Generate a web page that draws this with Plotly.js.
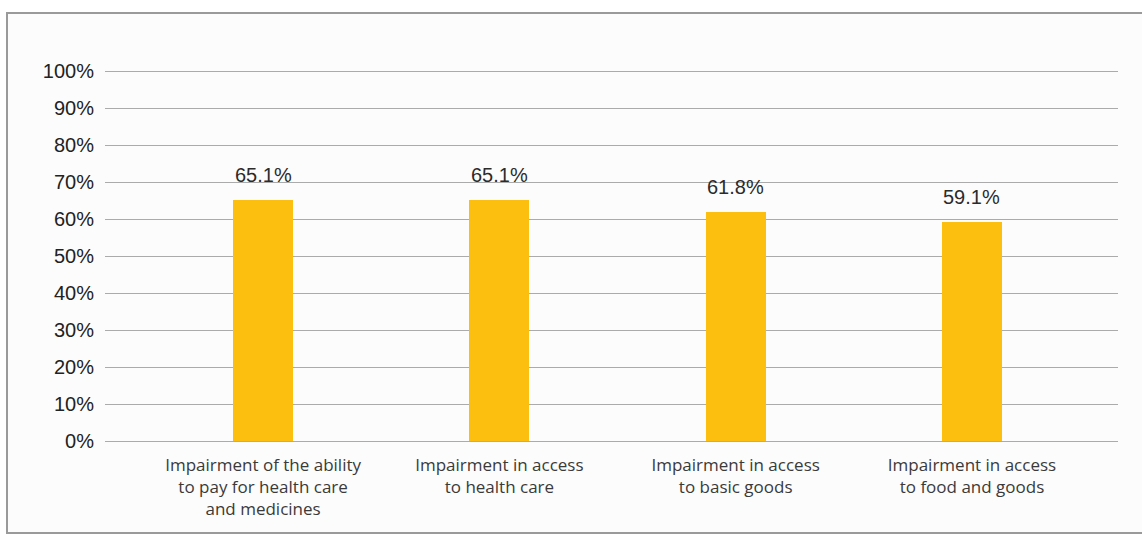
<!DOCTYPE html>
<html>
<head>
<meta charset="utf-8">
<script src="https://cdn.plot.ly/plotly-3.0.1.min.js"></script>
<style>
  html, body { margin: 0; padding: 0; background: #ffffff; }
  #wrap { position: relative; width: 1142px; height: 537px; overflow: hidden; }
  #frame { position: absolute; left: 6px; top: 12px; width: 1150px; height: 522px;
           border: 2px solid #9a9a9a; background: #fcfcfc; box-sizing: border-box; }
  #chart { position: absolute; left: 0; top: 0; width: 1142px; height: 537px; }
</style>
</head>
<body>
<div id="wrap">
  <div id="frame"></div>
  <div id="chart"></div>
</div>
<script>
const categories = [
  "Impairment of the ability<br>to pay for health care<br>and medicines",
  "Impairment in access<br>to health care",
  "Impairment in access<br>to basic goods",
  "Impairment in access<br>to food and goods"
];
const values = [65.1, 65.1, 61.8, 59.1];
const valueLabels = ["65.1%", "65.1%", "61.8%", "59.1%"];
const yTickVals = [0, 10, 20, 30, 40, 50, 60, 70, 80, 90, 100];
const yTickText = ["0%", "10%", "20%", "30%", "40%", "50%", "60%", "70%", "80%", "90%", "100%"];

const trace = {
  type: "bar",
  x: categories,
  y: values,
  width: 0.254,
  marker: { color: "#FCBE0F" },
  hoverinfo: "skip"
};

const annotations = categories.map((c, i) => ({
  x: c, y: values[i], xref: "x", yref: "y",
  text: valueLabels[i], showarrow: false,
  yanchor: "bottom", yshift: 12,
  font: { family: "Liberation Sans, Arial, sans-serif", size: 20, color: "#2b2b2b" }
}));

const layout = {
  width: 1142, height: 537,
  margin: { l: 105, r: 24, t: 70, b: 96 },
  paper_bgcolor: "rgba(0,0,0,0)",
  plot_bgcolor: "rgba(0,0,0,0)",
  showlegend: false,
  bargap: 0,
  xaxis: {
    type: "category",
    range: [-0.669, 3.618],
    showgrid: false, zeroline: false, showline: false,
    ticks: "",
    ticklabelstandoff: 12,
    tickfont: { family: "Open Sans, Noto Sans, sans-serif", size: 17, color: "#3a3a3a" },
    fixedrange: true
  },
  yaxis: {
    range: [0, 100.3],
    tickvals: yTickVals,
    ticktext: yTickText,
    showgrid: true, gridcolor: "#ababab", gridwidth: 1,
    zeroline: true, zerolinecolor: "#ababab", zerolinewidth: 1,
    showline: false, ticks: "",
    ticklabelstandoff: 10,
    tickfont: { family: "Liberation Sans, Arial, sans-serif", size: 20, color: "#222222" },
    fixedrange: true
  },
  annotations: annotations
};

Plotly.newPlot("chart", [trace], layout, { displayModeBar: false, staticPlot: true });
</script>
</body>
</html>
